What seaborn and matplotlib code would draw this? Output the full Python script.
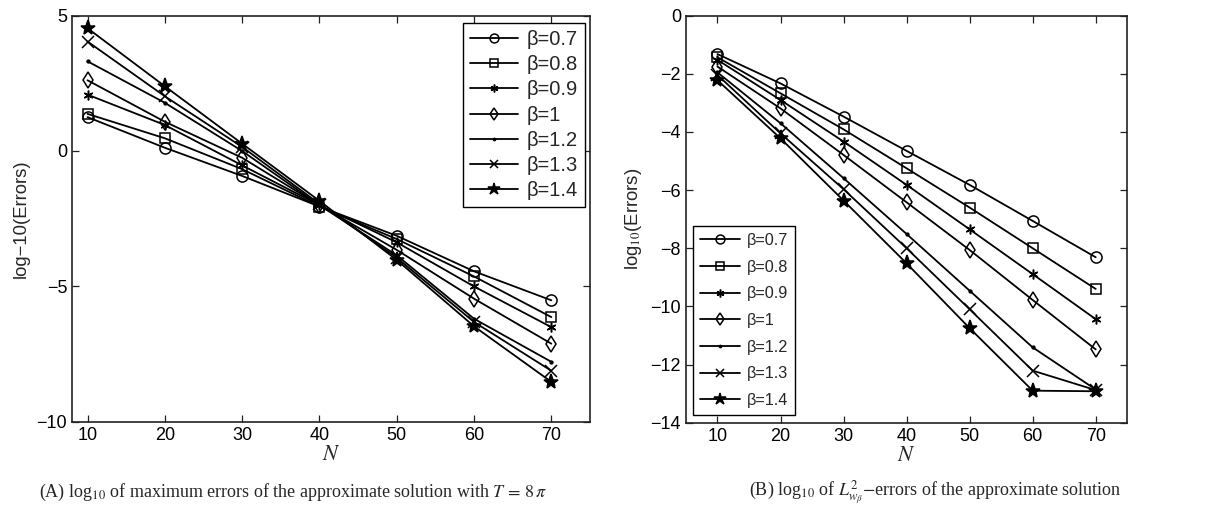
import numpy as np
import pandas as pd
import matplotlib
matplotlib.use("Agg")
import matplotlib.pyplot as plt
import seaborn as sns

N = [10, 20, 30, 40, 50, 60, 70]
betas = ["β=0.7", "β=0.8", "β=0.9", "β=1", "β=1.2", "β=1.3", "β=1.4"]

# Panel A: log10 of maximum errors
max_b07 = [1.25, 0.12, -0.92, -2.05, -3.13, -4.44, -5.51]
max_b08 = [1.37, 0.47, -0.67, -2.05, -3.25, -4.63, -6.13]
max_b09 = [2.08, 0.96, -0.53, -2.0, -3.37, -5.00, -6.50]
max_b10 = [2.61, 1.08, -0.25, -2.0, -3.65, -5.45, -7.11]
max_b12 = [3.31, 1.78, 0.0, -2.0, -3.85, -6.19, -7.78]
max_b13 = [4.04, 2.02, 0.15, -1.95, -3.94, -6.31, -8.11]
max_b14 = [4.53, 2.39, 0.27, -1.84, -4.02, -6.47, -8.52]

# Panel B: log10 of weighted L2 errors
l2_b07 = [-1.32, -2.33, -3.47, -4.65, -5.82, -7.06, -8.31]
l2_b08 = [-1.43, -2.67, -3.91, -5.25, -6.60, -8.00, -9.40]
l2_b09 = [-1.52, -2.90, -4.33, -5.82, -7.35, -8.89, -10.44]
l2_b10 = [-1.75, -3.19, -4.79, -6.42, -8.06, -9.78, -11.48]
l2_b12 = [-1.95, -3.70, -5.59, -7.51, -9.46, -11.41, -12.86]
l2_b13 = [-2.04, -4.05, -5.97, -8.00, -10.10, -12.21, -12.88]
l2_b14 = [-2.22, -4.22, -6.36, -8.52, -10.75, -12.90, -12.92]

max_series = [max_b07, max_b08, max_b09, max_b10, max_b12, max_b13, max_b14]
l2_series = [l2_b07, l2_b08, l2_b09, l2_b10, l2_b12, l2_b13, l2_b14]

markers = ["o", "s", (6, 2, 0), "d", ".", "x", "*"]
msizes = [8, 7, 7, 8, 4, 8, 11]
mfcs = ["none", "none", "black", "none", "black", "black", "black"]

sns.set_theme(style="ticks")
plt.rcParams["font.family"] = ["Liberation Sans", "DejaVu Sans"]
plt.rcParams["mathtext.fontset"] = "stix"
plt.rcParams["xtick.direction"] = "in"
plt.rcParams["ytick.direction"] = "in"

fig = plt.figure(figsize=(12.13, 5.15), dpi=100)
axA = fig.add_axes([0.0594, 0.1806, 0.4270, 0.7893])
axB = fig.add_axes([0.5655, 0.1793, 0.3638, 0.7902])


def draw(ax, series):
    for lab, vals, m, ms, fc in zip(betas, series, markers, msizes, mfcs):
        df = pd.DataFrame({"N": N, "val": vals})
        sns.lineplot(data=df, x="N", y="val", ax=ax, color="black", lw=1.3,
                     marker=m, markersize=ms, markerfacecolor=fc,
                     markeredgecolor="black", markeredgewidth=1.1, label=lab)
    for s in ax.spines.values():
        s.set_visible(True)
        s.set_linewidth(1.2)
        s.set_color("#222222")
    ax.tick_params(axis="both", which="both", top=True, right=True,
                   labelsize=13, length=5, width=0.9, colors="#222222",
                   labelcolor="black")
    ax.set_xticks(N)
    ax.set_xlabel("$N$", fontsize=16, labelpad=0)


draw(axA, max_series)
axA.set_xlim(8, 75)
axA.set_ylim(-10, 5)
axA.set_yticks([-10, -5, 0, 5])
axA.set_yticklabels(["−10", "−5", "0", "5"])
axA.set_ylabel("log−10(Errors)", fontsize=13.3, labelpad=5)
legA = axA.legend(loc="upper right", fontsize=14.5, frameon=True, fancybox=False,
                  edgecolor="black", framealpha=1, handlelength=2.4,
                  borderpad=0.35, labelspacing=0.31, handletextpad=0.4,
                  markerscale=0.8, borderaxespad=0,
                  bbox_to_anchor=(0.99, 0.982))
legA.get_frame().set_linewidth(1.0)

draw(axB, l2_series)
axB.set_xlim(5, 75)
axB.set_ylim(-14, 0)
axB.set_yticks(list(range(-14, 1, 2)))
axB.set_yticklabels(["−14", "−12", "−10", "−8", "−6", "−4", "−2", "0"])
axB.set_ylabel("log$_{10}$(Errors)", fontsize=13.3, labelpad=5)
legB = axB.legend(loc="lower left", fontsize=11.7, frameon=True, fancybox=False,
                  edgecolor="black", framealpha=1, handlelength=2.5,
                  borderpad=0.4, labelspacing=0.72, handletextpad=0.4,
                  markerscale=0.8, borderaxespad=0,
                  bbox_to_anchor=(0.016, 0.02))
legB.get_frame().set_linewidth(1.0)

cap_font = {"family": ["Liberation Serif", "DejaVu Serif"], "size": 13}
fig.text(0.242, 0.043, r"(A) log$_{10}$ of maximum errors of the approximate solution with $T\,=\,8\,\pi$",
         ha="center", va="center", fontdict=cap_font)
fig.text(0.771, 0.043, r"(B) log$_{10}$ of $L^2_{w_\beta}$$-$errors of the approximate solution",
         ha="center", va="center", fontdict=cap_font)

fig.savefig("out.png", dpi=100)
